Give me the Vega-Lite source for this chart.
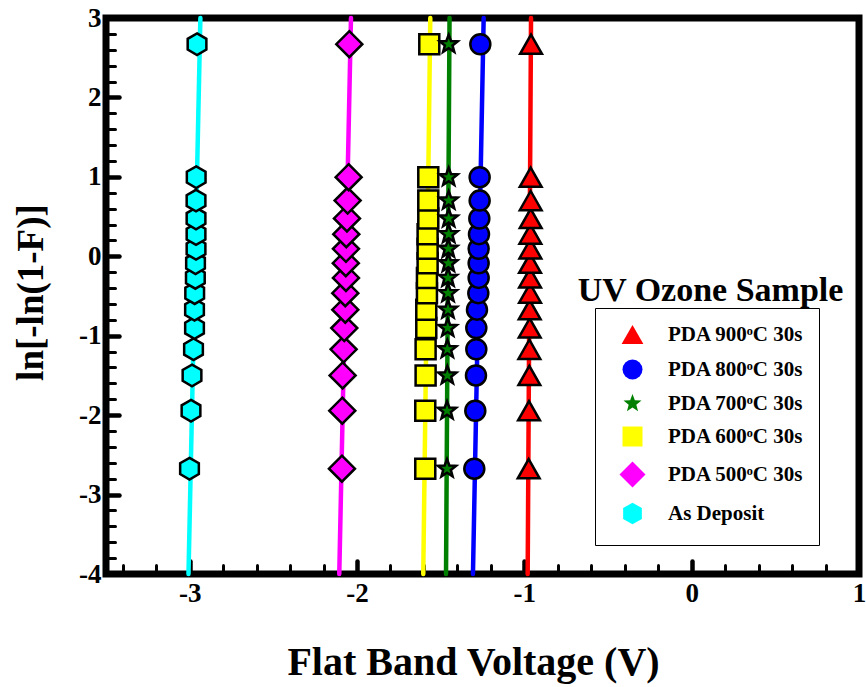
{
  "$schema": "https://vega.github.io/schema/vega-lite/v6.json",
  "width": 753,
  "height": 556,
  "autosize": {"type": "none"},
  "padding": {"left": 106, "top": 18, "right": 7, "bottom": 113},
  "background": "white",
  "config": {
    "view": {"stroke": "black", "strokeWidth": 7},
    "font": "Liberation Serif",
    "axis": {
      "domain": false,
      "grid": false,
      "tickColor": "black",
      "tickCap": "round",
      "labelOverlap": false,
      "labelFlush": false,
      "labelFont": "Liberation Serif",
      "labelFontSize": 27,
      "labelFontWeight": "bold",
      "labelColor": "black",
      "titleFont": "Liberation Serif",
      "titleFontWeight": "bold",
      "titleColor": "black"
    },
    "axisX": {"labelPadding": 19, "titleFontSize": 40, "titleX": 367, "titleY": 100, "titleAlign": "center", "titleBaseline": "alphabetic"},
    "axisY": {"labelPadding": 18, "titleFontSize": 37, "titleAngle": 270, "titleX": -64, "titleY": 274, "titleAlign": "center", "titleBaseline": "alphabetic"}
  },
  "resolve": {"axis": {"x": "independent", "y": "independent"}},
  "datasets": {
    "fit": [
      {"s": "As Deposit", "x": -3.007, "y": -4}, {"s": "As Deposit", "x": -2.936, "y": 3},
      {"s": "PDA 500ᵒC 30s", "x": -2.106, "y": -4}, {"s": "PDA 500ᵒC 30s", "x": -2.036, "y": 3},
      {"s": "PDA 600ᵒC 30s", "x": -1.604, "y": -4}, {"s": "PDA 600ᵒC 30s", "x": -1.562, "y": 3},
      {"s": "PDA 700ᵒC 30s", "x": -1.468, "y": -4}, {"s": "PDA 700ᵒC 30s", "x": -1.447, "y": 3},
      {"s": "PDA 800ᵒC 30s", "x": -1.307, "y": -4}, {"s": "PDA 800ᵒC 30s", "x": -1.243, "y": 3},
      {"s": "PDA 900ᵒC 30s", "x": -0.980, "y": -4}, {"s": "PDA 900ᵒC 30s", "x": -0.960, "y": 3}
    ],
    "pts": [
      {"s": "As Deposit", "x": -3.001, "y": -2.674},
      {"s": "As Deposit", "x": -2.992, "y": -1.944},
      {"s": "As Deposit", "x": -2.986, "y": -1.5},
      {"s": "As Deposit", "x": -2.977, "y": -1.171},
      {"s": "As Deposit", "x": -2.971, "y": -0.903},
      {"s": "As Deposit", "x": -2.971, "y": -0.672},
      {"s": "As Deposit", "x": -2.970, "y": -0.464},
      {"s": "As Deposit", "x": -2.966, "y": -0.272},
      {"s": "As Deposit", "x": -2.965, "y": -0.087},
      {"s": "As Deposit", "x": -2.962, "y": 0.094},
      {"s": "As Deposit", "x": -2.962, "y": 0.279},
      {"s": "As Deposit", "x": -2.962, "y": 0.476},
      {"s": "As Deposit", "x": -2.962, "y": 0.701},
      {"s": "As Deposit", "x": -2.961, "y": 0.996},
      {"s": "As Deposit", "x": -2.956, "y": 2.67},
      {"s": "PDA 500ᵒC 30s", "x": -2.090, "y": -2.674},
      {"s": "PDA 500ᵒC 30s", "x": -2.088, "y": -1.944},
      {"s": "PDA 500ᵒC 30s", "x": -2.086, "y": -1.5},
      {"s": "PDA 500ᵒC 30s", "x": -2.080, "y": -1.171},
      {"s": "PDA 500ᵒC 30s", "x": -2.076, "y": -0.903},
      {"s": "PDA 500ᵒC 30s", "x": -2.070, "y": -0.672},
      {"s": "PDA 500ᵒC 30s", "x": -2.070, "y": -0.464},
      {"s": "PDA 500ᵒC 30s", "x": -2.066, "y": -0.272},
      {"s": "PDA 500ᵒC 30s", "x": -2.067, "y": -0.087},
      {"s": "PDA 500ᵒC 30s", "x": -2.066, "y": 0.094},
      {"s": "PDA 500ᵒC 30s", "x": -2.064, "y": 0.279},
      {"s": "PDA 500ᵒC 30s", "x": -2.060, "y": 0.476},
      {"s": "PDA 500ᵒC 30s", "x": -2.056, "y": 0.701},
      {"s": "PDA 500ᵒC 30s", "x": -2.050, "y": 0.996},
      {"s": "PDA 500ᵒC 30s", "x": -2.046, "y": 2.67},
      {"s": "PDA 600ᵒC 30s", "x": -1.592, "y": -2.674},
      {"s": "PDA 600ᵒC 30s", "x": -1.592, "y": -1.944},
      {"s": "PDA 600ᵒC 30s", "x": -1.590, "y": -1.5},
      {"s": "PDA 600ᵒC 30s", "x": -1.590, "y": -1.171},
      {"s": "PDA 600ᵒC 30s", "x": -1.586, "y": -0.903},
      {"s": "PDA 600ᵒC 30s", "x": -1.586, "y": -0.672},
      {"s": "PDA 600ᵒC 30s", "x": -1.582, "y": -0.464},
      {"s": "PDA 600ᵒC 30s", "x": -1.582, "y": -0.272},
      {"s": "PDA 600ᵒC 30s", "x": -1.578, "y": -0.087},
      {"s": "PDA 600ᵒC 30s", "x": -1.578, "y": 0.094},
      {"s": "PDA 600ᵒC 30s", "x": -1.578, "y": 0.279},
      {"s": "PDA 600ᵒC 30s", "x": -1.574, "y": 0.476},
      {"s": "PDA 600ᵒC 30s", "x": -1.574, "y": 0.701},
      {"s": "PDA 600ᵒC 30s", "x": -1.574, "y": 0.996},
      {"s": "PDA 600ᵒC 30s", "x": -1.568, "y": 2.67},
      {"s": "PDA 700ᵒC 30s", "x": -1.462, "y": -2.674},
      {"s": "PDA 700ᵒC 30s", "x": -1.462, "y": -1.944},
      {"s": "PDA 700ᵒC 30s", "x": -1.460, "y": -1.5},
      {"s": "PDA 700ᵒC 30s", "x": -1.460, "y": -1.171},
      {"s": "PDA 700ᵒC 30s", "x": -1.458, "y": -0.903},
      {"s": "PDA 700ᵒC 30s", "x": -1.456, "y": -0.672},
      {"s": "PDA 700ᵒC 30s", "x": -1.456, "y": -0.464},
      {"s": "PDA 700ᵒC 30s", "x": -1.456, "y": -0.272},
      {"s": "PDA 700ᵒC 30s", "x": -1.454, "y": -0.087},
      {"s": "PDA 700ᵒC 30s", "x": -1.454, "y": 0.094},
      {"s": "PDA 700ᵒC 30s", "x": -1.452, "y": 0.279},
      {"s": "PDA 700ᵒC 30s", "x": -1.452, "y": 0.476},
      {"s": "PDA 700ᵒC 30s", "x": -1.452, "y": 0.701},
      {"s": "PDA 700ᵒC 30s", "x": -1.452, "y": 0.996},
      {"s": "PDA 700ᵒC 30s", "x": -1.452, "y": 2.67},
      {"s": "PDA 800ᵒC 30s", "x": -1.299, "y": -2.674},
      {"s": "PDA 800ᵒC 30s", "x": -1.293, "y": -1.944},
      {"s": "PDA 800ᵒC 30s", "x": -1.289, "y": -1.5},
      {"s": "PDA 800ᵒC 30s", "x": -1.287, "y": -1.171},
      {"s": "PDA 800ᵒC 30s", "x": -1.287, "y": -0.903},
      {"s": "PDA 800ᵒC 30s", "x": -1.283, "y": -0.672},
      {"s": "PDA 800ᵒC 30s", "x": -1.275, "y": -0.464},
      {"s": "PDA 800ᵒC 30s", "x": -1.273, "y": -0.272},
      {"s": "PDA 800ᵒC 30s", "x": -1.273, "y": -0.087},
      {"s": "PDA 800ᵒC 30s", "x": -1.273, "y": 0.094},
      {"s": "PDA 800ᵒC 30s", "x": -1.271, "y": 0.279},
      {"s": "PDA 800ᵒC 30s", "x": -1.269, "y": 0.476},
      {"s": "PDA 800ᵒC 30s", "x": -1.267, "y": 0.701},
      {"s": "PDA 800ᵒC 30s", "x": -1.267, "y": 0.996},
      {"s": "PDA 800ᵒC 30s", "x": -1.263, "y": 2.67},
      {"s": "PDA 900ᵒC 30s", "x": -0.974, "y": -2.674},
      {"s": "PDA 900ᵒC 30s", "x": -0.972, "y": -1.944},
      {"s": "PDA 900ᵒC 30s", "x": -0.970, "y": -1.5},
      {"s": "PDA 900ᵒC 30s", "x": -0.970, "y": -1.171},
      {"s": "PDA 900ᵒC 30s", "x": -0.968, "y": -0.903},
      {"s": "PDA 900ᵒC 30s", "x": -0.968, "y": -0.672},
      {"s": "PDA 900ᵒC 30s", "x": -0.966, "y": -0.464},
      {"s": "PDA 900ᵒC 30s", "x": -0.966, "y": -0.272},
      {"s": "PDA 900ᵒC 30s", "x": -0.966, "y": -0.087},
      {"s": "PDA 900ᵒC 30s", "x": -0.964, "y": 0.094},
      {"s": "PDA 900ᵒC 30s", "x": -0.964, "y": 0.279},
      {"s": "PDA 900ᵒC 30s", "x": -0.962, "y": 0.476},
      {"s": "PDA 900ᵒC 30s", "x": -0.962, "y": 0.701},
      {"s": "PDA 900ᵒC 30s", "x": -0.962, "y": 0.996},
      {"s": "PDA 900ᵒC 30s", "x": -0.960, "y": 2.67}
    ]
  },
  "layer": [
    {
      "encoding": {
        "x": {
          "field": "x", "type": "quantitative",
          "scale": {"domain": [-3.5, 1], "nice": false, "zero": false},
          "axis": {
            "title": "Flat Band Voltage (V)",
            "values": [-3.4, -3.2, -3, -2.8, -2.6, -2.4, -2.2, -2, -1.8, -1.6, -1.4, -1.2, -1, -0.8, -0.6, -0.4, -0.2, 0, 0.2, 0.4, 0.6, 0.8, 1],
            "labelExpr": "abs(datum.value - round(datum.value)) < 0.001 ? '' + round(datum.value) : ''",
            "labelOverlap": false,
            "tickSize": {"condition": {"test": "abs(datum.value - round(datum.value)) < 0.001", "value": -13}, "value": -9},
            "tickWidth": {"condition": {"test": "abs(datum.value - round(datum.value)) < 0.001", "value": 4.5}, "value": 3}
          }
        },
        "y": {
          "field": "y", "type": "quantitative",
          "scale": {"domain": [-4, 3], "nice": false, "zero": false},
          "axis": {
            "title": "ln[-ln(1-F)]",
            "values": [-4, -3.8, -3.6, -3.4, -3.2, -3, -2.8, -2.6, -2.4, -2.2, -2, -1.8, -1.6, -1.4, -1.2, -1, -0.8, -0.6, -0.4, -0.2, 0, 0.2, 0.4, 0.6, 0.8, 1, 1.2, 1.4, 1.6, 1.8, 2, 2.2, 2.4, 2.6, 2.8, 3],
            "labelExpr": "abs(datum.value - round(datum.value)) < 0.001 ? '' + round(datum.value) : ''",
            "labelOverlap": false,
            "tickSize": {"condition": {"test": "abs(datum.value - round(datum.value)) < 0.001", "value": -13}, "value": -9},
            "tickWidth": {"condition": {"test": "abs(datum.value - round(datum.value)) < 0.001", "value": 4.5}, "value": 3}
          }
        }
      },
      "layer": [
        {
          "data": {"name": "fit"},
          "mark": {"type": "line", "strokeWidth": 4.5, "strokeCap": "round"},
          "encoding": {
            "stroke": {
              "field": "s", "type": "nominal",
              "scale": {
                "domain": ["As Deposit", "PDA 500ᵒC 30s", "PDA 600ᵒC 30s", "PDA 700ᵒC 30s", "PDA 800ᵒC 30s", "PDA 900ᵒC 30s"],
                "range": ["#00FFFF", "#FF00FF", "#FFFF00", "#008000", "#0000FF", "#FF0000"]
              },
              "legend": null
            }
          }
        },
        {
          "data": {"name": "pts"},
          "mark": {"type": "point", "filled": true, "size": 400, "stroke": "black", "strokeWidth": 2.5, "opacity": 1, "fillOpacity": 1},
          "encoding": {
            "fill": {
              "field": "s", "type": "nominal",
              "scale": {
                "domain": ["PDA 900ᵒC 30s", "PDA 800ᵒC 30s", "PDA 700ᵒC 30s", "PDA 600ᵒC 30s", "PDA 500ᵒC 30s", "As Deposit"],
                "range": ["#FF0000", "#0000FF", "#008000", "#FFFF00", "#FF00FF", "#00FFFF"]
              },
              "legend": {
                "title": null,
                "orient": "none",
                "legendX": 489,
                "legendY": 290,
                "strokeColor": "black",
                "padding": 15,
                "symbolSize": 400,
                "symbolStrokeColor": "black",
                "symbolStrokeWidth": 2.5,
                "symbolOffset": 11,
                "labelFont": "Liberation Serif",
                "labelFontSize": 21,
                "labelFontWeight": "bold",
                "labelColor": "black",
                "rowPadding": 4,
                "labelOffset": 24,
                "labelLimit": 300,
                "encode": {"symbols": {"update": {"stroke": {"value": "black"}, "strokeWidth": {"value": 2.5}, "opacity": {"value": 1}}}}
              }
            },
            "shape": {
              "field": "s", "type": "nominal",
              "scale": {
                "domain": ["PDA 900ᵒC 30s", "PDA 800ᵒC 30s", "PDA 700ᵒC 30s", "PDA 600ᵒC 30s", "PDA 500ᵒC 30s", "As Deposit"],
                "range": [
                  "M0,-0.96L1.09,0.96L-1.09,0.96Z",
                  "circle",
                  "M0,-0.95L0.235,-0.324L0.903,-0.294L0.38,0.124L0.558,0.769L0,0.4L-0.558,0.769L-0.38,0.124L-0.903,-0.294L-0.235,-0.324Z",
                  "square",
                  "M0,-1.3L1.3,0L0,1.3L-1.3,0Z",
                  "M0,-1.08L0.935,-0.54L0.935,0.54L0,1.08L-0.935,0.54L-0.935,-0.54Z"
                ]
              },
              "legend": {
                "title": null,
                "orient": "none",
                "legendX": 489,
                "legendY": 290,
                "strokeColor": "black",
                "padding": 15,
                "symbolSize": 400,
                "symbolStrokeColor": "black",
                "symbolStrokeWidth": 2.5,
                "symbolOffset": 11,
                "labelFont": "Liberation Serif",
                "labelFontSize": 21,
                "labelFontWeight": "bold",
                "labelColor": "black",
                "rowPadding": 4,
                "labelOffset": 24,
                "labelLimit": 300,
                "encode": {"symbols": {"update": {"stroke": {"value": "black"}, "strokeWidth": {"value": 2.5}, "opacity": {"value": 1}}}}
              }
            }
          }
        }
      ]
    },
    {
      "data": {"values": [{"t": "UV Ozone Sample"}]},
      "mark": {"type": "text", "font": "Liberation Serif", "fontSize": 34, "fontWeight": "bold", "align": "center", "baseline": "alphabetic", "color": "black"},
      "encoding": {
        "x": {"datum": 0.1126, "type": "quantitative", "axis": null},
        "y": {"datum": -0.559, "type": "quantitative", "axis": null},
        "text": {"field": "t"}
      }
    }
  ]
}
